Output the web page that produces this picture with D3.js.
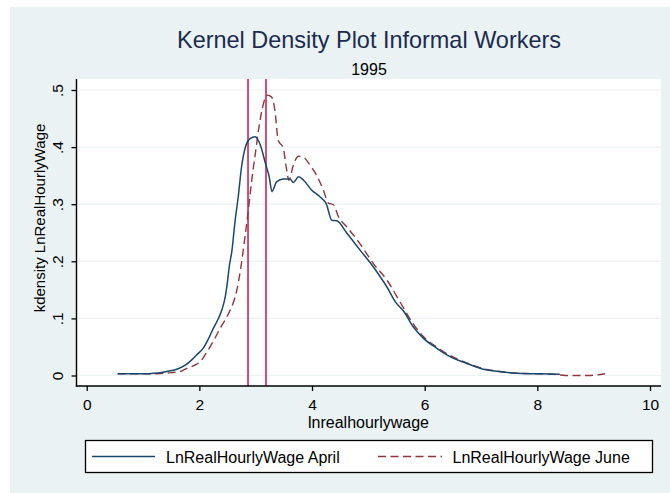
<!DOCTYPE html>
<html>
<head>
<meta charset="utf-8">
<script src="https://cdn.jsdelivr.net/npm/d3@7"></script>
<style>
  html, body { margin: 0; padding: 0; background: #ffffff; }
  svg { display: block; font-family: "Liberation Sans", Arial, sans-serif; }
</style>
</head>
<body>
<svg id="chart" width="670" height="493"></svg>
<script>
// ---- data ----
const aprilX = [0.55, 0.8, 1.0, 1.2, 1.3, 1.42, 1.6, 1.75, 1.86, 1.95, 2.07, 2.15, 2.25, 2.33, 2.40, 2.46, 2.50, 2.53, 2.58, 2.63, 2.69, 2.75, 2.83, 2.90, 2.99, 3.08, 3.18, 3.24, 3.29, 3.33, 3.37, 3.49, 3.61, 3.67, 3.76, 3.85, 3.99, 4.14, 4.26, 4.30, 4.35, 4.44, 4.62, 4.85, 5.09, 5.21, 5.33, 5.48, 5.63, 5.80, 5.98, 6.21, 6.45, 6.75, 7.04, 7.34, 7.63, 8.0, 8.40];
const aprilY = [0.003, 0.003, 0.003, 0.004, 0.005, 0.007, 0.011, 0.018, 0.027, 0.036, 0.048, 0.062, 0.083, 0.098, 0.115, 0.138, 0.165, 0.19, 0.22, 0.267, 0.313, 0.366, 0.404, 0.415, 0.418, 0.404, 0.369, 0.348, 0.322, 0.330, 0.339, 0.344, 0.344, 0.338, 0.348, 0.342, 0.325, 0.313, 0.299, 0.285, 0.272, 0.271, 0.249, 0.22, 0.19, 0.173, 0.155, 0.129, 0.112, 0.085, 0.065, 0.048, 0.033, 0.021, 0.011, 0.0067, 0.004, 0.003, 0.002];

const juneX = [0.55, 0.8, 1.0, 1.2, 1.36, 1.5, 1.66, 1.78, 1.92, 2.04, 2.10, 2.19, 2.28, 2.37, 2.46, 2.55, 2.66, 2.73, 2.81, 2.87, 2.93, 2.99, 3.06, 3.14, 3.21, 3.28, 3.34, 3.40, 3.49, 3.55, 3.59, 3.67, 3.76, 3.85, 3.96, 4.08, 4.20, 4.29, 4.38, 4.47, 4.62, 4.85, 5.09, 5.33, 5.56, 5.80, 5.98, 6.21, 6.45, 6.75, 7.04, 7.34, 7.63, 8.0, 8.3, 8.5, 8.9, 9.2];
const juneY = [0.003, 0.003, 0.003, 0.003, 0.004, 0.005, 0.007, 0.0126, 0.018, 0.027, 0.036, 0.05, 0.066, 0.083, 0.098, 0.115, 0.147, 0.185, 0.243, 0.29, 0.342, 0.386, 0.436, 0.477, 0.491, 0.488, 0.465, 0.412, 0.398, 0.36, 0.342, 0.369, 0.384, 0.382, 0.369, 0.351, 0.325, 0.302, 0.299, 0.278, 0.26, 0.231, 0.196, 0.167, 0.129, 0.09, 0.068, 0.05, 0.035, 0.022, 0.012, 0.007, 0.004, 0.003, 0.002, 0.0, 0.0, 0.003];

const refLines = [2.864, 3.183];
const xTicks = [0, 2, 4, 6, 8, 10];
const yTicks = [0, 0.1, 0.2, 0.3, 0.4, 0.5];
const yTickLabels = ["0", ".1", ".2", ".3", ".4", ".5"];
const seriesNames = ["LnRealHourlyWage April", "LnRealHourlyWage June"];
const titleText = "Kernel Density Plot Informal Workers";
const subtitleText = "1995";
const xTitle = "lnrealhourlywage";
const yTitle = "kdensity LnRealHourlyWage";

// ---- layout ----
const svg = d3.select("#chart");
const plot = { left: 77, right: 661, top: 79, bottom: 386 };
const axisX = 76.5;

const x = d3.scaleLinear().domain([0, 10]).range([86.7, 650]);
const y = d3.scaleLinear().domain([0, 0.5]).range([375.5, 90]);

// graph region background
svg.append("rect").attr("x", 10).attr("y", 7).attr("width", 660).attr("height", 486).attr("fill", "#eaf2f3");
// plot region
svg.append("rect").attr("x", plot.left).attr("y", plot.top)
  .attr("width", plot.right - plot.left).attr("height", plot.bottom - plot.top).attr("fill", "#ffffff");

// gridlines
svg.append("g").selectAll("line").data(yTicks).join("line")
  .attr("x1", plot.left).attr("x2", plot.right)
  .attr("y1", d => y(d)).attr("y2", d => y(d))
  .attr("stroke", "#eaf2f3").attr("stroke-width", 1.2);

// reference lines
svg.append("g").selectAll("line").data(refLines).join("line")
  .attr("x1", d => x(d)).attr("x2", d => x(d))
  .attr("y1", plot.top).attr("y2", plot.bottom)
  .attr("stroke", "#cf3160").attr("stroke-width", 1.7);

// curves
const line = d3.line().x(d => x(d[0])).y(d => y(d[1])).curve(d3.curveMonotoneX);
const april = aprilX.map((v, i) => [v, aprilY[i]]);
const june = juneX.map((v, i) => [v, juneY[i]]);

svg.append("path").datum(june).attr("d", line)
  .attr("fill", "none").attr("stroke", "#90353b").attr("stroke-width", 1.4)
  .attr("stroke-dasharray", "8,4.5");
svg.append("path").datum(april).attr("d", line)
  .attr("fill", "none").attr("stroke", "#1a476f").attr("stroke-width", 1.5);

// axes
const gx = svg.append("g").attr("transform", `translate(0,${plot.bottom})`)
  .call(d3.axisBottom(x).tickValues(xTicks).tickSize(5).tickSizeOuter(0).tickFormat(d3.format("d")));
gx.select(".domain").remove();
gx.selectAll(".tick line").attr("stroke", "#000").attr("stroke-width", 1.3);
gx.selectAll(".tick text").attr("y", 24).attr("dy", null)
  .attr("font-size", 15.5).attr("font-family", "Liberation Sans, Arial, sans-serif").attr("fill", "#000");

const gy = svg.append("g").attr("transform", `translate(${axisX},0)`)
  .call(d3.axisLeft(y).tickValues(yTicks).tickSize(5).tickSizeOuter(0)
    .tickFormat((d, i) => yTickLabels[i]));
gy.select(".domain").remove();
gy.selectAll(".tick line").attr("stroke", "#000").attr("stroke-width", 1.3);
gy.selectAll(".tick text").attr("x", null).attr("dy", null)
  .attr("text-anchor", "middle").attr("transform", "translate(-13.5,0) rotate(-90)")
  .attr("font-size", 15.5).attr("font-family", "Liberation Sans, Arial, sans-serif").attr("fill", "#000");

// axis lines
svg.append("line").attr("x1", axisX).attr("x2", axisX).attr("y1", plot.top).attr("y2", plot.bottom + 0.7)
  .attr("stroke", "#000").attr("stroke-width", 1.4);
svg.append("line").attr("x1", axisX - 0.7).attr("x2", plot.right).attr("y1", plot.bottom).attr("y2", plot.bottom)
  .attr("stroke", "#000").attr("stroke-width", 1.4);

// titles
svg.append("text").attr("x", 369).attr("y", 47.5).attr("text-anchor", "middle")
  .attr("font-size", 24).attr("fill", "#1c2b50").attr("textLength", 384).attr("lengthAdjust", "spacingAndGlyphs")
  .text(titleText);
svg.append("text").attr("x", 369).attr("y", 74.5).attr("text-anchor", "middle")
  .attr("font-size", 16).attr("fill", "#000").text(subtitleText);
svg.append("text").attr("x", 368.5).attr("y", 428).attr("text-anchor", "middle")
  .attr("font-size", 16).attr("fill", "#000").text(xTitle);
svg.append("text").attr("transform", "translate(45,218) rotate(-90)").attr("text-anchor", "middle")
  .attr("font-size", 15).attr("fill", "#000").text(yTitle);

// legend
const lg = svg.append("g");
lg.append("rect").attr("x", 85.5).attr("y", 440.5).attr("width", 567).attr("height", 32)
  .attr("fill", "#fff").attr("stroke", "#000").attr("stroke-width", 1.3);
const legendItems = [
  { name: seriesNames[0], x1: 92, x2: 155, tx: 166, color: "#1a476f", dash: null },
  { name: seriesNames[1], x1: 378, x2: 442, tx: 452.5, color: "#90353b", dash: "8,4.5" }
];
legendItems.forEach(it => {
  lg.append("line").attr("x1", it.x1).attr("x2", it.x2).attr("y1", 456.5).attr("y2", 456.5)
    .attr("stroke", it.color).attr("stroke-width", 1.5).attr("stroke-dasharray", it.dash);
  lg.append("text").attr("x", it.tx).attr("y", 462.5).attr("font-size", 16).attr("fill", "#000")
    .text(it.name);
});
</script>
</body>
</html>
